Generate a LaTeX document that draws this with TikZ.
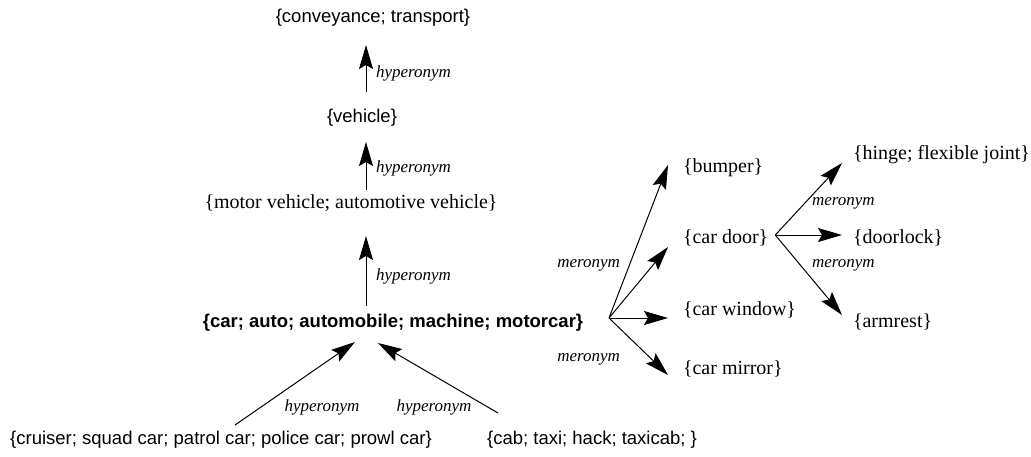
\documentclass[tikz,border=0pt]{standalone}
\usepackage{fontspec}
\setmainfont{Liberation Serif}
\newfontfamily\synsans{Liberation Sans}
\usetikzlibrary{arrows.meta}
\begin{document}
\begin{tikzpicture}[x=1pt,y=-1pt,
  every node/.style={inner sep=0pt,outer sep=0pt},
  sset/.style={font=\synsans\fontsize{18.5}{22}\selectfont},
  rset/.style={font=\fontsize{20}{24}\selectfont},
  rel/.style={font=\itshape\fontsize{17}{20}\selectfont},
  arr/.style={line width=1pt,-{Stealth[length=24pt,width=14pt,inset=4pt]}}]
\useasboundingbox (0,0) rectangle (1031,456);

% hyperonym chain
\node[sset] (conv) at (373,18) {\{conveyance; transport\}};
\node[sset] (veh) at (362,118) {\{vehicle\}};
\node[rset] (motor) at (351,203) {\{motor vehicle; automotive vehicle\}};
\node[sset,font=\synsans\bfseries\fontsize{18.5}{22}\selectfont] (car) at (393,323) {\{car; auto; automobile; machine; motorcar\}};
\node[sset] (cruiser) at (221,440) {\{cruiser; squad car; patrol car; police car; prowl car\}};
\node[sset] (cab) at (592,440) {\{cab; taxi; hack; taxicab; \}};

% parts
\node[rset,anchor=west] (bumper) at (683,168) {\{bumper\}};
\node[rset,anchor=west] (door) at (683,238) {\{car door\}};
\node[rset,anchor=west] (window) at (683,310) {\{car window\}};
\node[rset,anchor=west] (mirror) at (683,369) {\{car mirror\}};
\node[rset,anchor=west] (hinge) at (853,155) {\{hinge; flexible joint\}};
\node[rset,anchor=west] (lock) at (853,238) {\{doorlock\}};
\node[rset,anchor=west] (armrest) at (853,322) {\{armrest\}};

% hyperonym arrows
\draw[arr] ([shift={(4,-26)}]veh.center) -- ([shift={(-7,27)}]conv.center);
\draw[arr] ([shift={(15,-13)}]motor.center) -- ([shift={(4,24)}]veh.center);
\draw[arr] ([shift={(-27,-17)}]car.center) -- ([shift={(15,33)}]motor.center);
\draw[arr] ([shift={(14,-15)}]cruiser.center) -- ([shift={(-38,19)}]car.center);
\draw[arr] ([shift={(-94,-27)}]cab.center) -- ([shift={(-15,20)}]car.center);

% meronym arrows
\coordinate (hubcar) at ([shift={(216,-5)}]car.center);
\coordinate (hubdoor) at ([shift={(7,-3)}]door.east);
\draw[arr] (hubcar) -- ([shift={(-15,-3)}]bumper.west);
\draw[arr] (hubcar) -- ([shift={(-15,9)}]door.west);
\draw[arr] (hubcar) -- ([shift={(-15,8)}]window.west);
\draw[arr] (hubcar) -- ([shift={(-15,6)}]mirror.west);
\draw[arr] (hubdoor) -- ([shift={(-11,8)}]hinge.west);
\draw[arr] (hubdoor) -- ([shift={(-11,-3)}]lock.west);
\draw[arr] (hubdoor) -- ([shift={(-11,-7)}]armrest.west);

% relation labels
\node[rel,anchor=west] (h1) at (376,73) {hyperonym};
\node[rel,anchor=west] (h2) at (376,168) {hyperonym};
\node[rel,anchor=west] (h3) at (376,276) {hyperonym};
\node[rel] (h4) at (322,407) {hyperonym};
\node[rel] (h5) at (434,407) {hyperonym};
\node[rel,anchor=east] (m1) at (620,265) {meronym};
\node[rel,anchor=east] (m2) at (620,359) {meronym};
\node[rel,anchor=west] (m3) at (812,203) {meronym};
\node[rel,anchor=west] (m4) at (812,265) {meronym};
\end{tikzpicture}
\end{document}
